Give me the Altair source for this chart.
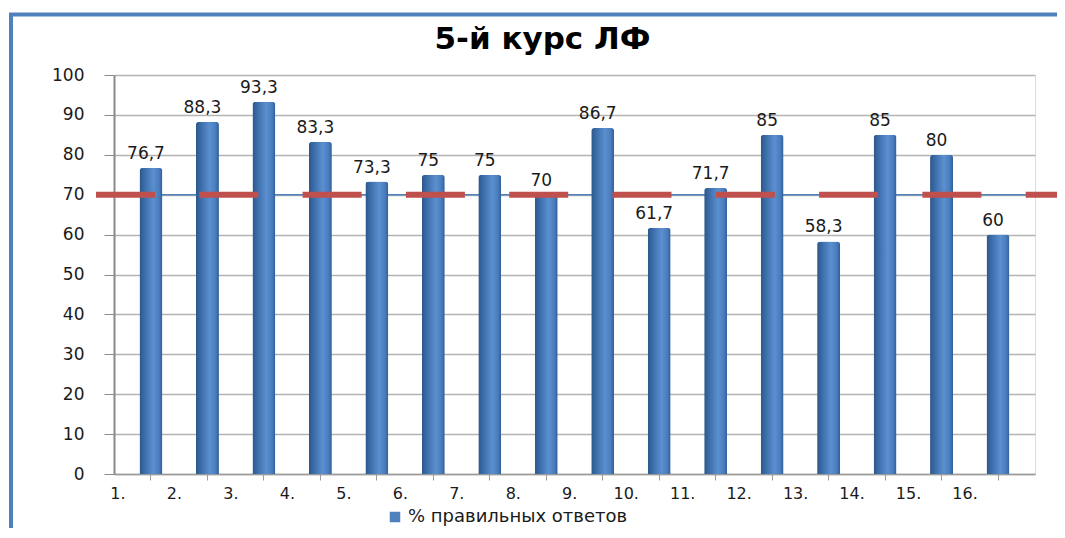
import altair as alt
import pandas as pd

# ---- data ----
questions = [f"{i}." for i in range(1, 17)]
percent = [76.7, 88.3, 93.3, 83.3, 73.3, 75, 75, 70, 86.7, 61.7, 71.7, 85, 58.3, 85, 80, 60]
value_labels = [("%g" % v).replace(".", ",") for v in percent]
series_name = ["% правильных ответов"]
threshold = [70]
y_ticks = list(range(0, 101, 10))

df = pd.DataFrame({
    "q": questions,
    "v": percent,
    "lab": value_labels,
    "s": series_name * len(questions),
})
thr = pd.DataFrame({"v": threshold})
frame_df = pd.DataFrame({"k": [0]})

FONT = "DejaVu Sans"
BLUE = "#4f81bd"
RED = "#c0504d"

x_axis = alt.Axis(
    title=None, labelAngle=0, tickSize=6, labelPadding=5,
    labelFontSize=16, labelFont=FONT, labelColor="#1a1a1a",
    domainColor="#9a9a9a", domainWidth=1.5, tickColor="#9a9a9a",
    labelOffset=-33, labelOverlap=False,
)
x_scale = alt.Scale(paddingInner=0, paddingOuter=0.155)
x_enc = alt.X("q:N", sort=questions, scale=x_scale, axis=x_axis)

y_scale = alt.Scale(domain=[0, 100], nice=False)
y_axis = alt.Axis(
    title=None, values=y_ticks, tickSize=10, labelPadding=20,
    labelFontSize=17, labelFont=FONT, labelColor="#1a1a1a",
    domainColor="#8a8a8a", domainWidth=2, tickColor="#8a8a8a",
    gridColor="#b4b4b4", gridWidth=1.5, labelOverlap=False,
)
y_enc = alt.Y("v:Q", scale=y_scale, axis=y_axis)

frame = alt.Chart(frame_df).mark_rect(
    fill="transparent", stroke=BLUE, strokeWidth=4
).encode(
    x=alt.value(-103), x2=alt.value(1100),
    y=alt.value(-60.5), y2=alt.value(600),
)

blue_line = alt.Chart(thr).mark_rule(color=BLUE, strokeWidth=1.5).encode(
    y=y_enc, x=alt.value(-18), x2=alt.value(951),
)

gradient = alt.LinearGradient(
    gradient="linear", x1=0, x2=1, y1=0, y2=0,
    stops=[
        alt.GradientStop(color="#2b5789", offset=0),
        alt.GradientStop(color="#3f70ad", offset=0.25),
        alt.GradientStop(color="#5a8fd0", offset=0.6),
        alt.GradientStop(color="#4a7dbe", offset=0.85),
        alt.GradientStop(color="#2f5e96", offset=1),
    ],
)

bars = alt.Chart(df).mark_bar(
    size=23, color=gradient, cornerRadiusTopLeft=3, cornerRadiusTopRight=3
).encode(x=x_enc, y=y_enc)

texts = alt.Chart(df).mark_text(
    baseline="bottom", dy=-5, dx=-5, fontSize=17, font=FONT, color="#1a1a1a"
).encode(x=x_enc, y=y_enc, text="lab:N")

red_line = alt.Chart(thr).mark_rule(
    color=RED, strokeWidth=6, strokeDash=[59, 44.3]
).encode(
    y=y_enc, x=alt.value(-18), x2=alt.value(951),
)

legend_layer = alt.Chart(df).mark_square(opacity=0).encode(
    x=x_enc,
    y=y_enc,
    color=alt.Color(
        "s:N",
        scale=alt.Scale(range=[BLUE]),
        legend=alt.Legend(
            title=None, orient="none", legendX=272, legendY=433,
            symbolType="square", symbolSize=110, symbolOpacity=1,
            symbolStrokeWidth=0, labelFontSize=18, labelFont=FONT,
            labelColor="#1a1a1a", labelOffset=4, labelLimit=0,
        ),
    ),
)

chart = alt.layer(
    frame, blue_line, bars, texts, red_line, legend_layer
).properties(
    width=921,
    height=399,
    title=alt.TitleParams(
        "5-й курс ЛФ", fontSize=31, font=FONT, fontWeight="bold",
        anchor="middle", frame="group", dx=-32, offset=-67, baseline="alphabetic",
        color="#000000",
    ),
    autosize=alt.AutoSizeParams(type="none"),
    padding={"left": 106, "top": 67, "right": 22, "bottom": 54},
).configure_view(strokeWidth=0).configure(background="white")

chart.save("out.html", embed_options={"renderer": "svg", "actions": False})
